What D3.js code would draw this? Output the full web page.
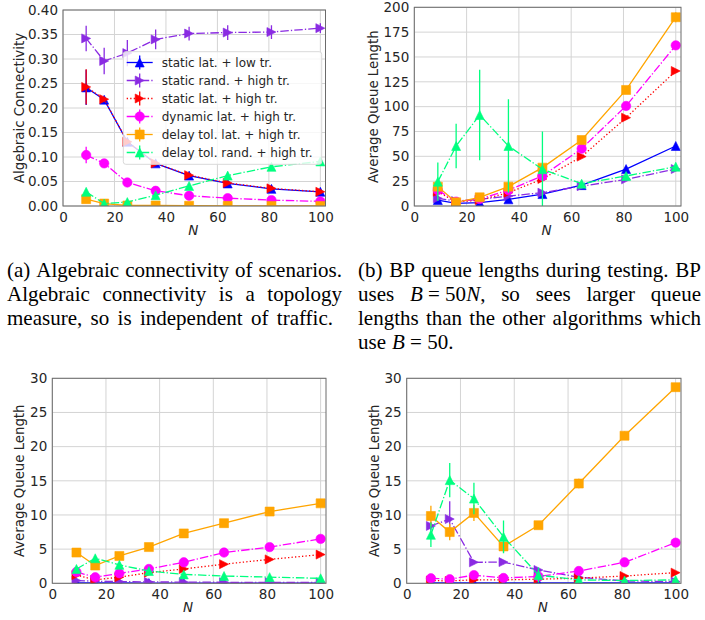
<!DOCTYPE html>
<html><head><meta charset="utf-8">
<script src="https://cdn.jsdelivr.net/npm/d3@7"></script>
<style>body{margin:0;background:#fff} svg{display:block}</style>
</head><body><svg id="c" width="705" height="620"></svg>
<script>
// ---------------- DATA ----------------
const N = [9, 16, 25, 36, 49, 64, 81, 100];
const seriesNames = ["static lat. + low tr.", "static rand. + high tr.", "static lat. + high tr.",
  "dynamic lat. + high tr.", "delay tol. lat. + high tr.", "delay tol. rand. + high tr."];
const xTicks = [0, 20, 40, 60, 80, 100];
const connTicks = [0, 0.05, 0.10, 0.15, 0.20, 0.25, 0.30, 0.35, 0.40];
const bpTicks = [0, 25, 50, 75, 100, 125, 150, 175, 200];
const queueTicks = [0, 5, 10, 15, 20, 25, 30];

// (a) algebraic connectivity
const connMean = [
  [0.242, 0.217, 0.131, 0.087, 0.062, 0.046, 0.035, 0.029],
  [0.342, 0.296, 0.312, 0.340, 0.352, 0.354, 0.355, 0.363],
  [0.243, 0.218, 0.131, 0.087, 0.063, 0.047, 0.036, 0.029],
  [0.104, 0.087, 0.048, 0.031, 0.021, 0.016, 0.012, 0.0095],
  [0.014, 0.005, 0.001, 0.001, 0.0005, 0.0003, 0.0002, 0.0001],
  [0.029, 0.005, 0.008, 0.022, 0.041, 0.062, 0.080, 0.091]
];
const connErr = [
  [0.036, 0.005, 0.004, 0.003, 0.002, 0.002, 0.002, 0.002],
  [0.026, 0.027, 0.027, 0.020, 0.014, 0.015, 0.014, 0.010],
  [0.036, 0.005, 0.004, 0.003, 0.002, 0.002, 0.002, 0.002],
  [0.017, 0.004, 0.003, 0.003, 0.002, 0.002, 0.002, 0.002],
  [0.005, 0.003, 0.001, 0.001, 0.000, 0.000, 0.000, 0.000],
  [0.004, 0.002, 0.002, 0.002, 0.002, 0.002, 0.002, 0.002]
];
// (b) BP queue lengths
const bpMean = [
  [6.0, 2.7, 3.4, 6.7, 12.0, 21.0, 37.2, 60.4],
  [7.7, 5.0, 6.7, 10.0, 13.4, 20.0, 26.8, 37.2],
  [14.4, 4.0, 6.0, 13.4, 27.2, 49.7, 88.9, 135.9],
  [16.0, 4.4, 7.0, 16.0, 30.2, 57.7, 100.7, 161.7],
  [19.5, 3.7, 8.7, 19.5, 38.6, 66.4, 116.8, 190.0],
  [24.5, 60.4, 91.6, 60.4, 37.0, 22.5, 30.2, 39.6]
];
const bpErr = [
  [2, 1, 1, 1, 1, 1.5, 2, 2],
  [2, 1, 1, 1, 1, 1, 1.5, 2],
  [2, 1, 1, 1, 1, 1.5, 2, 2],
  [2, 1, 1, 1, 2, 2, 3, 3],
  [3, 1, 1, 2, 2, 3, 3, 5],
  [19.3, 22.5, 45.5, 47.0, 38.0, 2, 2, 2]
];
// (c) queue lengths, lower left
const cMean = [
  [0.05, 0.05, 0.05, 0.04, 0.04, 0.04, 0.04, 0.04],
  [0.40, 0.30, 0.25, 0.20, 0.18, 0.15, 0.15, 0.14],
  [1.20, 0.50, 0.90, 1.56, 2.10, 2.80, 3.50, 4.20],
  [1.66, 0.88, 1.46, 2.10, 3.07, 4.50, 5.30, 6.50],
  [4.50, 2.60, 4.00, 5.30, 7.30, 8.80, 10.50, 11.70],
  [2.10, 3.66, 2.70, 1.80, 1.30, 1.07, 0.90, 0.73]
];
const cErr = [
  [0.05, 0.05, 0.05, 0.05, 0.05, 0.05, 0.05, 0.05],
  [0.30, 0.15, 0.1, 0.1, 0.1, 0.1, 0.1, 0.1],
  [0.3, 0.15, 0.15, 0.15, 0.15, 0.15, 0.15, 0.15],
  [0.3, 0.2, 0.2, 0.2, 0.2, 0.2, 0.2, 0.2],
  [0.3, 0.3, 0.2, 0.2, 0.2, 0.2, 0.2, 0.2],
  [0.3, 0.3, 0.3, 0.2, 0.2, 0.1, 0.1, 0.1]
];
// (d) queue lengths, lower right
const dMean = [
  [0.05, 0.05, 0.05, 0.05, 0.05, 0.05, 0.05, 0.05],
  [8.40, 9.40, 3.07, 3.10, 1.95, 0.88, 0.34, 0.25],
  [0.40, 0.35, 0.50, 0.50, 0.60, 0.75, 1.07, 1.56],
  [0.73, 0.60, 1.20, 0.78, 1.00, 1.80, 3.07, 5.95],
  [9.85, 7.50, 10.30, 5.40, 8.50, 14.60, 21.60, 28.70],
  [7.10, 15.10, 12.40, 6.80, 1.20, 0.50, 0.40, 0.50]
];
const dErr = [
  [0.05, 0.05, 0.05, 0.05, 0.05, 0.05, 0.05, 0.05],
  [0.6, 2.6, 0.3, 0.3, 0.3, 0.2, 0.1, 0.1],
  [0.1, 0.1, 0.1, 0.1, 0.1, 0.1, 0.1, 0.1],
  [0.2, 0.2, 0.2, 0.2, 0.2, 0.2, 0.2, 0.2],
  [1.5, 1.2, 1.2, 0.9, 0.5, 0.7, 0.6, 0.3],
  [1.8, 2.5, 2.3, 2.4, 1.1, 0.3, 0.2, 0.2]
];

// ---------------- STYLE ----------------
const colors = ["#0000ff", "#8a2be2", "#ff0000", "#ff00ff", "#ffa500", "#00ff7f"];
const dashes = [null, "8.5,2.1,1.3,2.1", "1.3,2.2", "8.5,2.1,1.3,2.1", null, "8.5,2.1,1.3,2.1"];
const markers = ["triUp", "triRight", "triRight", "circle", "square", "triUp"];
const LW = 1.3;

function markerPath(type) {
  const s = 9;
  if (type === "triUp") return `M0,${-s/2}L${s/2},${s/2}L${-s/2},${s/2}Z`;
  if (type === "triRight") return `M${s/2},0L${-s/2},${-s/2}L${-s/2},${s/2}Z`;
  if (type === "square") return `M${-4.5},${-4.5}h9v9h-9Z`;
  const r = 4.7;
  return `M${r},0A${r},${r} 0 1,1 ${-r},0A${r},${r} 0 1,1 ${r},0Z`;
}

const svg = d3.select("#c");
svg.append("rect").attr("width", 705).attr("height", 620).attr("fill", "#fff");

const panels = [
  {id: "a", left: 63, right: 325.5, top: 10, bottom: 206, xmax: 102, ymax: 0.4, ticks: connTicks,
   fmt: d3.format(".2f"), ylabel: "Algebraic Connectivity", ylx: 19.5, mean: connMean, err: connErr, legend: true},
  {id: "b", left: 414.3, right: 681, top: 7.3, bottom: 206, xmax: 102, ymax: 200, ticks: bpTicks,
   fmt: d3.format("d"), ylabel: "Average Queue Length", ylx: 373.5, mean: bpMean, err: bpErr},
  {id: "c", left: 52.3, right: 326, top: 378.3, bottom: 583.3, xmax: 102, ymax: 30, ticks: queueTicks,
   fmt: d3.format("d"), ylabel: "Average Queue Length", ylx: 19, mean: cMean, err: cErr},
  {id: "d", left: 406.7, right: 681, top: 378.3, bottom: 583.3, xmax: 102, ymax: 30, ticks: queueTicks,
   fmt: d3.format("d"), ylabel: "Average Queue Length", ylx: 374, mean: dMean, err: dErr}
];

const FONT = "'DejaVu Sans', sans-serif";
const TXT = "#262626";

panels.forEach(p => {
  const x = d3.scaleLinear().domain([0, p.xmax]).range([p.left, p.right]);
  const y = d3.scaleLinear().domain([0, p.ymax]).range([p.bottom, p.top]);
  const g = svg.append("g");
  const clipId = "clip-" + p.id;
  svg.append("clipPath").attr("id", clipId).append("rect")
    .attr("x", p.left).attr("y", p.top).attr("width", p.right - p.left).attr("height", p.bottom - p.top);

  // grid
  const grid = g.append("g").attr("stroke", "#d4d4d4").attr("stroke-width", 1);
  xTicks.forEach(t => grid.append("line").attr("x1", x(t)).attr("x2", x(t)).attr("y1", p.top).attr("y2", p.bottom));
  p.ticks.forEach(t => grid.append("line").attr("y1", y(t)).attr("y2", y(t)).attr("x1", p.left).attr("x2", p.right));

  // axes
  const xa = g.append("g").attr("transform", `translate(0,${p.bottom})`)
    .call(d3.axisBottom(x).tickValues(xTicks).tickSize(0).tickPadding(6).tickFormat(d3.format("d")));
  const ya = g.append("g").attr("transform", `translate(${p.left},0)`)
    .call(d3.axisLeft(y).tickValues(p.ticks).tickSize(0).tickPadding(5).tickFormat(p.fmt));
  [xa, ya].forEach(a => {
    a.select(".domain").remove();
    a.selectAll("text").attr("font-family", FONT).attr("font-size", 13.5).attr("fill", TXT);
  });

  // series
  const sg = g.append("g").attr("clip-path", `url(#${clipId})`);
  p.mean.forEach((vals, si) => {
    const pts = N.map((n, i) => ({x: n, y: vals[i], e: p.err[si][i]}));
    sg.append("path").datum(pts)
      .attr("d", d3.line().x(d => x(d.x)).y(d => y(d.y)))
      .attr("fill", "none").attr("stroke", colors[si]).attr("stroke-width", LW)
      .attr("stroke-dasharray", dashes[si]);
    sg.selectAll(null).data(pts).enter().append("line")
      .attr("x1", d => x(d.x)).attr("x2", d => x(d.x))
      .attr("y1", d => y(d.y - d.e)).attr("y2", d => y(d.y + d.e))
      .attr("stroke", colors[si]).attr("stroke-width", LW);
    sg.selectAll(null).data(pts).enter().append("path")
      .attr("d", markerPath(markers[si]))
      .attr("transform", d => `translate(${x(d.x)},${y(d.y)})`)
      .attr("fill", colors[si]).attr("stroke", colors[si]).attr("stroke-width", 0.6);
  });

  // spines
  g.append("rect").attr("x", p.left).attr("y", p.top).attr("width", p.right - p.left).attr("height", p.bottom - p.top)
    .attr("fill", "none").attr("stroke", "#6b6b6b").attr("stroke-width", 1);

  // labels
  g.append("text").attr("transform", `translate(${p.ylx},${(p.top + p.bottom) / 2}) rotate(-90)`)
    .attr("text-anchor", "middle").attr("dominant-baseline", "central")
    .attr("font-family", FONT).attr("font-size", 13.3).attr("fill", TXT).text(p.ylabel);
  g.append("text").attr("x", (p.left + p.right) / 2 - 1).attr("y", p.bottom + 29)
    .attr("text-anchor", "middle").attr("font-family", FONT).attr("font-style", "italic")
    .attr("font-size", 13.5).attr("fill", TXT).text("N");

  if (p.legend) {
    const lg = g.append("g");
    lg.append("rect").attr("x", 123.3).attr("y", 51.7).attr("width", 198.4).attr("height", 112.6)
      .attr("rx", 2.5).attr("fill", "#fff").attr("fill-opacity", 0.8).attr("stroke", "#d9d9d9").attr("stroke-width", 1);
    seriesNames.forEach((name, si) => {
      const yy = 62.5 + si * 18;
      lg.append("line").attr("x1", 126.7).attr("x2", 152.7).attr("y1", yy).attr("y2", yy)
        .attr("stroke", colors[si]).attr("stroke-width", LW).attr("stroke-dasharray", dashes[si]);
      lg.append("line").attr("x1", 139.7).attr("x2", 139.7).attr("y1", yy - 7).attr("y2", yy + 7)
        .attr("stroke", colors[si]).attr("stroke-width", LW);
      lg.append("path").attr("d", markerPath(markers[si])).attr("transform", `translate(139.7,${yy})`)
        .attr("fill", colors[si]).attr("stroke", colors[si]).attr("stroke-width", 0.6);
      lg.append("text").attr("x", 161.7).attr("y", yy).attr("dominant-baseline", "central")
        .attr("font-family", FONT).attr("font-size", 12).attr("fill", TXT).text(name);
    });
  }
});

// ---------------- CAPTIONS ----------------
const capA = [
  {justify: 335, words: [[["(a)"]], [["Algebraic"]], [["connectivity"]], [["of"]], [["scenarios."]]]},
  {justify: 335, words: [[["Algebraic"]], [["connectivity"]], [["is"]], [["a"]], [["topology"]]]},
  {justify: 326, words: [[["measure,"]], [["so"]], [["is"]], [["independent"]], [["of"]], [["traffic."]]]}
];
const capB = [
  {justify: 343, words: [[["(b)"]], [["BP"]], [["queue"]], [["lengths"]], [["during"]], [["testing."]], [["BP"]]]},
  {justify: 343, words: [[["uses"]], [["B", 1], ["\u00a0=\u00a050"], ["N", 1], [","]], [["so"]], [["sees"]], [["larger"]], [["queue"]]]},
  {justify: 343, words: [[["lengths"]], [["than"]], [["the"]], [["other"]], [["algorithms"]], [["which"]]]},
  {justify: 0, words: [[["use"]], [["B", 1], ["\u00a0=\u00a050."]]]}
];
function drawCaption(lines, x0, y0) {
  const cg = svg.append("g").attr("font-family", "'Liberation Serif', 'Times New Roman', serif")
    .attr("font-size", 21).attr("fill", "#000");
  lines.forEach((ln, li) => {
    const yy = y0 + li * 24;
    const nodes = ln.words.map(w => {
      const t = cg.append("text").attr("y", yy);
      w.forEach(seg => t.append("tspan").text(seg[0]).attr("font-style", seg[1] ? "italic" : null));
      return t;
    });
    const widths = nodes.map(n => n.node().getComputedTextLength());
    const total = d3.sum(widths);
    const gap = ln.justify ? Math.max(3, (ln.justify - total) / (nodes.length - 1)) : 6;
    let xx = x0;
    nodes.forEach((n, i) => { n.attr("x", xx); xx += widths[i] + gap; });
  });
}
drawCaption(capA, 7, 277);
drawCaption(capB, 358, 277);
</script></body></html>
